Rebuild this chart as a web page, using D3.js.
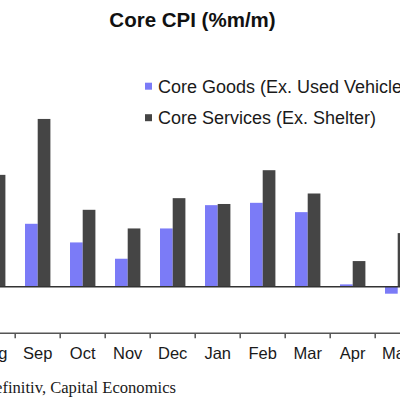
<!DOCTYPE html>
<html>
<head>
<meta charset="utf-8">
<script src="https://cdn.jsdelivr.net/npm/d3@7"></script>
<style>
  html, body { margin: 0; padding: 0; background: #fff; }
  svg { display: block; overflow: hidden; }
</style>
</head>
<body>
<svg id="chart" width="400" height="400"></svg>
<script>
// ---- data (chart is cropped left and right) ----
const months = ["Aug", "Sep", "Oct", "Nov", "Dec", "Jan", "Feb", "Mar", "Apr", "May"];
const coreGoods = [null, 0.27, 0.19, 0.12, 0.25, 0.35, 0.36, 0.32, 0.01, -0.03];
const coreServices = [0.48, 0.72, 0.33, 0.25, 0.38, 0.355, 0.50, 0.40, 0.11, 0.23];
const seriesNames = ["Core Goods (Ex. Used Vehicles)", "Core Services (Ex. Shelter)"];
const seriesColors = ["#7b7bf7", "#454545"];
const yDomain = [-0.2, 1.0];
const titleText = "Core CPI (%m/m)";
const sourceText = "Source: Refinitiv, Capital Economics";

const svg = d3.select("#chart");

// scales
const x = d3.scaleBand().domain(months).range([-29.8, 420.2]).padding(0);
const xSub = d3.scaleBand().domain([0, 1]).range([9.8, 35.2]).padding(0);
const y = d3.scaleLinear().domain(yDomain).range([333.3, 333.3 - 233 * (yDomain[1] - yDomain[0])]);

// bars
const rows = months.map((m, i) => ({ m, vals: [coreGoods[i], coreServices[i]] }));
const groups = svg.append("g").selectAll("g").data(rows).join("g")
  .attr("transform", d => `translate(${x(d.m)},0)`);
groups.selectAll("rect")
  .data(d => d.vals.map((v, k) => ({ v, k })).filter(e => e.v !== null))
  .join("rect")
  .attr("x", e => xSub(e.k))
  .attr("width", xSub.bandwidth())
  .attr("y", e => y(Math.max(0, e.v)))
  .attr("height", e => Math.abs(y(e.v) - y(0)))
  .attr("fill", e => seriesColors[e.k]);

// zero line
svg.append("line")
  .attr("x1", 0).attr("x2", 400)
  .attr("y1", y(0)).attr("y2", y(0))
  .attr("stroke", "#333").attr("stroke-width", 1.5);

// bottom axis
const axisG = svg.append("g").attr("transform", `translate(0,${y(yDomain[0])})`);
axisG.call(d3.axisBottom(x).tickSize(0).tickPadding(14))
  .call(g => g.select(".domain").attr("stroke", "#555").attr("stroke-width", 1.5).attr("d", "M-40,0H440"))
  .call(g => g.selectAll("text")
      .attr("font-family", "'Liberation Sans', Arial, sans-serif")
      .attr("font-size", 16.5).attr("fill", "#1a1a1a"));
// boundary ticks
const bounds = months.map(m => x(m)).concat([x(months[months.length - 1]) + x.step()]);
axisG.selectAll(".btick").data(bounds).join("line")
  .attr("class", "btick")
  .attr("x1", d => d).attr("x2", d => d)
  .attr("y1", 0).attr("y2", 5)
  .attr("stroke", "#555").attr("stroke-width", 1.5);

// title
svg.append("text")
  .attr("x", 192.5).attr("y", 27.3)
  .attr("text-anchor", "middle")
  .attr("font-family", "'Liberation Sans', Arial, sans-serif")
  .attr("font-weight", "bold").attr("font-size", 20.5).attr("fill", "#111")
  .text(titleText);

// legend
const legend = svg.append("g").selectAll("g").data(seriesNames).join("g")
  .attr("transform", (d, i) => `translate(145,${82.7 + i * 31.5})`);
legend.append("rect").attr("width", 7).attr("height", 7)
  .attr("fill", (d, i) => seriesColors[i]);
legend.append("text")
  .attr("x", 13).attr("y", 9.8)
  .attr("font-family", "'Liberation Sans', Arial, sans-serif")
  .attr("font-size", 18).attr("fill", "#1a1a1a")
  .text(d => d);

// source
svg.append("text")
  .attr("x", 176).attr("y", 392.7)
  .attr("text-anchor", "end")
  .attr("font-family", "'Liberation Serif', 'Times New Roman', serif")
  .attr("font-size", 16.6).attr("fill", "#1a1a1a")
  .text(sourceText);
</script>
</body>
</html>
